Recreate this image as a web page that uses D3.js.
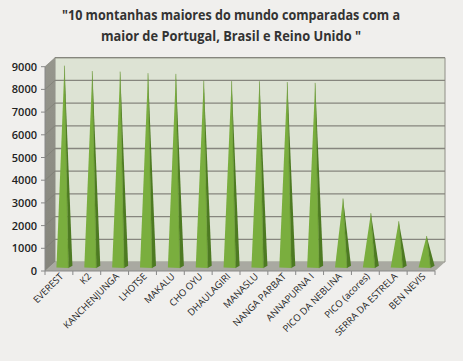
<!DOCTYPE html>
<html><head><meta charset="utf-8">
<script src="https://cdn.jsdelivr.net/npm/d3@7"></script>
<style>body{margin:0;background:#f0efed;}svg{display:block;}</style>
</head><body>
<script>
const categories = ["EVEREST","K2","KANCHENJUNGA","LHOTSE","MAKALU","CHO OYU","DHAULAGIRI","MANASLU","NANGA PARBAT","ANNAPURNA I","PICO DA NEBLINA","PICO (acores)","SERRA DA ESTRELA","BEN NEVIS"];
const heights = [8848,8611,8586,8516,8485,8188,8167,8163,8126,8091,2995,2351,1993,1344];
const yTicks = [0,1000,2000,3000,4000,5000,6000,7000,8000,9000];
const titleLines = ["\"10 montanhas maiores do mundo comparadas com a","maior de Portugal, Brasil e Reino Unido \""];
const titleWidths = [338,260];

const W=463,H=361;
const svg=d3.select("body").append("svg").attr("width",W).attr("height",H);
svg.append("rect").attr("width",W).attr("height",H).attr("fill","#f0efed");

const x=d3.scaleBand().domain(categories).range([45,435]);
const y=d3.scaleLinear().domain([0,9000]).range([271,66.7]);
const dx=10, dy=-9;
const x0=45,x1=435,yb=y(0),yt=y(9000);

// back wall
svg.append("polygon").attr("points",[[x0+dx,yt+dy],[x1+dx,yt+dy],[x1+dx,yb+dy],[x0+dx,yb+dy]].join(" "))
  .attr("fill","#dde3d4").attr("stroke","#8e8e86").attr("stroke-width",1);
// gridlines
svg.selectAll(".grid").data(yTicks.filter(d=>d>0)).enter().append("line")
  .attr("x1",x0+dx).attr("x2",x1+dx).attr("y1",d=>y(d)+dy).attr("y2",d=>y(d)+dy)
  .attr("stroke","#86867e").attr("stroke-width",1.3);
// left wall
const lg=svg.append("defs").append("linearGradient").attr("id","lw").attr("x1","0").attr("x2","0").attr("y1","0").attr("y2","1");
lg.append("stop").attr("offset","0").attr("stop-color","#96968d");
lg.append("stop").attr("offset","1").attr("stop-color","#85857c");
svg.append("polygon").attr("points",[[x0,yb],[x0,yt],[x0+dx,yt+dy],[x0+dx,yb+dy]].join(" "))
  .attr("fill","url(#lw)");
svg.selectAll(".lwl").data(yTicks).enter().append("line")
  .attr("x1",x0).attr("x2",x0+dx).attr("y1",d=>y(d)).attr("y2",d=>y(d)+dy)
  .attr("stroke","#7a7a72").attr("stroke-width",0.6);
// floor
svg.append("polygon").attr("points",[[x0,yb],[x1,yb],[x1+dx,yb+dy],[x0+dx,yb+dy]].join(" "))
  .attr("fill","#a9a9a1");

// cones
const bw=x.bandwidth();
const g=svg.append("g");
categories.forEach((c,i)=>{
  const cx=x(c)+bw/2+dx/2+0.5;
  const by=yb+dy/2;
  const py=y(heights[i])+dy/2;
  const fl=[cx-8,by+1], fr=[cx+4,by+1.6], br=[cx+8,by-0.8];
  g.append("polygon").attr("points",[[cx,py],br,fr].join(" ")).attr("fill","#4d7a22");
  g.append("polygon").attr("points",[[cx,py],fl,fr].join(" ")).attr("fill","#7aae3e");
  g.append("line").attr("x1",cx).attr("y1",py).attr("x2",fr[0]).attr("y2",fr[1]).attr("stroke","#5f8f2c").attr("stroke-width",0.6);
});

// axes
svg.append("line").attr("x1",x0).attr("x2",x0).attr("y1",yt).attr("y2",yb).attr("stroke","#888").attr("stroke-width",1);
svg.append("line").attr("x1",x0).attr("x2",x1).attr("y1",yb).attr("y2",yb).attr("stroke","#888").attr("stroke-width",1);
svg.selectAll(".yt").data(yTicks).enter().append("line")
  .attr("x1",x0-4).attr("x2",x0).attr("y1",d=>y(d)).attr("y2",d=>y(d)).attr("stroke","#888");
svg.selectAll(".yl").data(yTicks).enter().append("text")
  .attr("x",37).attr("y",d=>y(d)+4).attr("text-anchor","end")
  .attr("font-family","'Open Sans',sans-serif").attr("font-size",11).attr("font-weight","600")
  .attr("fill","#222").text(d=>d);
const xb=categories.map(c=>x(c)).concat([x1]);
svg.selectAll(".xt").data(xb).enter().append("line")
  .attr("x1",d=>d).attr("x2",d=>d).attr("y1",yb).attr("y2",yb+4).attr("stroke","#888");
svg.selectAll(".xl").data(categories).enter().append("text")
  .attr("transform",c=>`translate(${x(c)+bw/2+5},${yb+6}) rotate(-45)`)
  .attr("text-anchor","end")
  .attr("font-family","'Open Sans',sans-serif").attr("font-size",9.5)
  .attr("fill","#222").text(c=>c);

// title
svg.selectAll(".title").data(titleLines).enter().append("text")
  .attr("x",231).attr("y",(d,i)=>20+i*21).attr("text-anchor","middle")
  .attr("textLength",(d,i)=>titleWidths[i]).attr("lengthAdjust","spacingAndGlyphs")
  .attr("font-family","'Open Sans',sans-serif").attr("font-size",14).attr("font-weight","bold")
  .attr("fill","#333").text(d=>d);
</script>
</body></html>
